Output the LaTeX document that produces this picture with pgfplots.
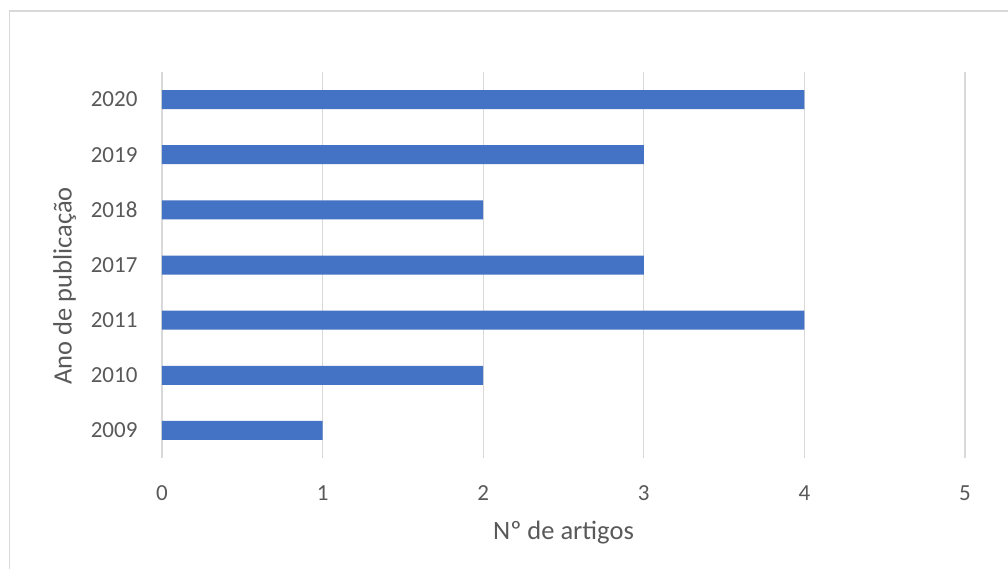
\documentclass[border=0pt]{standalone}
\usepackage{fontspec}
\setmainfont{Carlito}
\usepackage{pgfplots}
\pgfplotsset{compat=1.18}
\definecolor{barblue}{HTML}{4472C4}
\definecolor{gridgray}{HTML}{D9D9D9}
\definecolor{txtgray}{HTML}{595959}
\begin{document}
\begin{tikzpicture}[x=1pt,y=1pt]
\begin{axis}[
  name=ax,
  scale only axis, width=803pt, height=386pt,
  xbar, bar width=19pt,
  xmin=0, xmax=5, ymin=-0.5, ymax=6.5,
  xtick={0,1,2,3,4,5},
  ytick={0,1,2,3,4,5,6},
  yticklabels={2009,2010,2011,2017,2018,2019,2020},
  axis line style={draw=none},
  major tick length=0pt,
  xmajorgrids, grid style={gridgray, line width=1.3pt},
  tick label style={font=\fontsize{23}{27}\selectfont, text=txtgray},
  label style={font=\fontsize{26.5}{31}\selectfont, text=txtgray},
  xticklabel style={yshift=-24pt},
  yticklabel style={xshift=-21pt},
  xlabel={Nº de artigos},
  ylabel={Ano de publicação},
  xlabel style={yshift=-14pt},
  ylabel style={at={(ticklabel cs:0.446)}, yshift=8pt},
  /pgf/number format/assume math mode=true,
]
\addplot[fill=barblue, draw=none] coordinates {(1,0) (2,1) (4,2) (3,3) (2,4) (3,5) (4,6)};
\coordinate (O) at (rel axis cs:0,0);
\end{axis}
\pgfresetboundingbox
\path[use as bounding box, shift={(O)}] (-162,-110) rectangle (846,458);
\draw[gridgray, line width=1.2pt, shift={(O)}] (-152.5,-130) -- (-152.5,447) -- (870,447);
\end{tikzpicture}
\end{document}
